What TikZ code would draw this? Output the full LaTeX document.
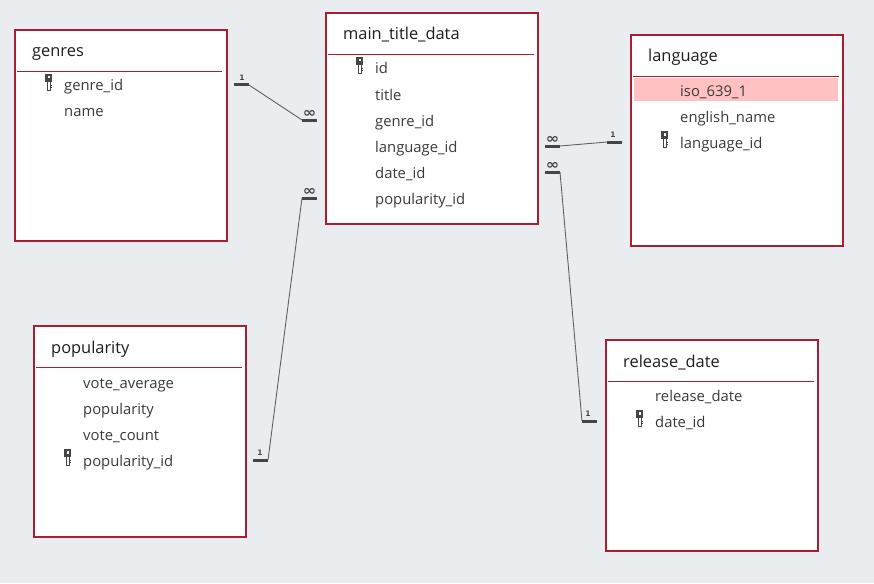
\documentclass[tikz,border=0pt]{standalone}
\usepackage{fontspec}
\setmainfont{Open Sans}
\newfontfamily\symfont{DejaVu Sans}
\definecolor{bg}{HTML}{E9EDF0}
\definecolor{crim}{HTML}{A81E32}
\definecolor{txt}{HTML}{3A3A3A}
\definecolor{ttl}{HTML}{1E1E1E}
\definecolor{hl}{HTML}{FFC1C1}
\definecolor{ln}{HTML}{454545}
\begin{document}
\begin{tikzpicture}[x=1pt,y=-1pt,
 tbl/.style={draw=crim, line width=2pt, fill=white, anchor=north west, minimum width=212pt, minimum height=211pt, inner sep=0pt},
 ttlnode/.style={anchor=base west, font=\fontsize{16.4}{19}\selectfont, text=ttl, inner sep=0pt},
 fld/.style={anchor=base west, font=\fontsize{14.8}{17}\selectfont, text=txt, inner sep=0pt},
 sep/.style={draw=crim, line width=0.9pt},
 bar/.style={draw=ln, line width=3pt},
 rel/.style={draw=ln!85, line width=0.9pt},
 card/.style={font=\symfont\bfseries\fontsize{7.5}{8}\selectfont, text=ln, inner sep=0pt},
 inf/.style={font=\symfont\bfseries\fontsize{14}{14}\selectfont, text=ln, inner sep=0pt, xscale=1.15},
 key/.pic={
  \fill[ln] (-3.5,0) rectangle (3.5,8);
  \fill[white] (-1,2) rectangle (1,4.5);
  \draw[ln, line width=0.8pt] (-1.5,8) -- (-1.5,16.5) -- (1.5,16.5) -- (1.5,8);
  \draw[ln, line width=0.7pt] (1.5,11) -- (3,11) (1.5,13.5) -- (3,13.5);
 }
]
\useasboundingbox (0,0) rectangle (874,583);
\fill[bg] (0,0) rectangle (874,583);

% genres
\node[tbl] (genres) at (14,29) {};
\node[ttlnode] (genresT) at (32,57) {genres};
\draw[sep] (17,71) -- (222,71);
\pic at (48.5,74) {key};
\node[fld] (g1) at (64,91) {genre\_id};
\node[fld] (g2) at (64,117) {name};

% main_title_data
\node[tbl] (main) at (325,12) {};
\node[ttlnode] (mainT) at (343,40) {main\_title\_data};
\draw[sep] (328,54) -- (534,54);
\pic at (359.5,57) {key};
\node[fld] (m1) at (375,74) {id};
\node[fld] (m2) at (375,100) {title};
\node[fld] (m3) at (375,126) {genre\_id};
\node[fld] (m4) at (375,152) {language\_id};
\node[fld] (m5) at (375,178) {date\_id};
\node[fld] (m6) at (375,204) {popularity\_id};

% language
\node[tbl] (lang) at (630,34) {};
\node[ttlnode] (langT) at (648,62) {language};
\draw[sep] (633,76) -- (839,76);
\fill[hl] (634,78) rectangle (838,101);
\node[fld] (l1) at (680,96) {iso\_639\_1};
\node[fld] (l2) at (680,122) {english\_name};
\pic at (664.5,131) {key};
\node[fld] (l3) at (680,148) {language\_id};

% popularity
\node[tbl] (pop) at (33,325) {};
\node[ttlnode] (popT) at (51,353) {popularity};
\draw[sep] (36,367) -- (242,367);
\node[fld] (p1) at (83,388) {vote\_average};
\node[fld] (p2) at (83,414) {popularity};
\node[fld] (p3) at (83,440) {vote\_count};
\pic at (67.5,449) {key};
\node[fld] (p4) at (83,466) {popularity\_id};

% release_date
\node[tbl] (rel) at (605,339) {};
\node[ttlnode] (relT) at (623,367) {release\_date};
\draw[sep] (608,381) -- (814,381);
\node[fld] (r1) at (655,401) {release\_date};
\pic at (639.5,410) {key};
\node[fld] (r2) at (655,427) {date\_id};

% connector end points
\coordinate (a1) at (234,85);  \coordinate (a2) at (249,85);
\coordinate (b1) at (302,120); \coordinate (b2) at (317,120);
\coordinate (c1) at (545,146); \coordinate (c2) at (560,146);
\coordinate (d1) at (607,142); \coordinate (d2) at (622,142);
\coordinate (e1) at (545,172); \coordinate (e2) at (560,172);
\coordinate (f1) at (582,421); \coordinate (f2) at (597,421);
\coordinate (h1) at (302,198); \coordinate (h2) at (317,198);
\coordinate (k1) at (253,460); \coordinate (k2) at (268,460);

% genres -- main
\draw[bar] (a1) -- (a2);
\draw[rel] (a2) -- (b1);
\draw[bar] (b1) -- (b2);
\node[card] (n1) at (242,78) {1};
\node[inf] (i1) at (309.5,113.5) {∞};

% main -- language
\draw[bar] (c1) -- (c2);
\draw[rel] (c2) -- (d1);
\draw[bar] (d1) -- (d2);
\node[inf] (i2) at (552.5,139.5) {∞};
\node[card] (n2) at (613,135) {1};

% main -- release_date
\draw[bar] (e1) -- (e2);
\draw[rel] (e2) -- (f1);
\draw[bar] (f1) -- (f2);
\node[inf] (i3) at (552.5,165.5) {∞};
\node[card] (n3) at (588,414) {1};

% main -- popularity
\draw[bar] (h1) -- (h2);
\draw[rel] (h1) -- (k2);
\draw[bar] (k1) -- (k2);
\node[inf] (i4) at (309.5,191.5) {∞};
\node[card] (n4) at (260,453) {1};
\end{tikzpicture}
\end{document}
